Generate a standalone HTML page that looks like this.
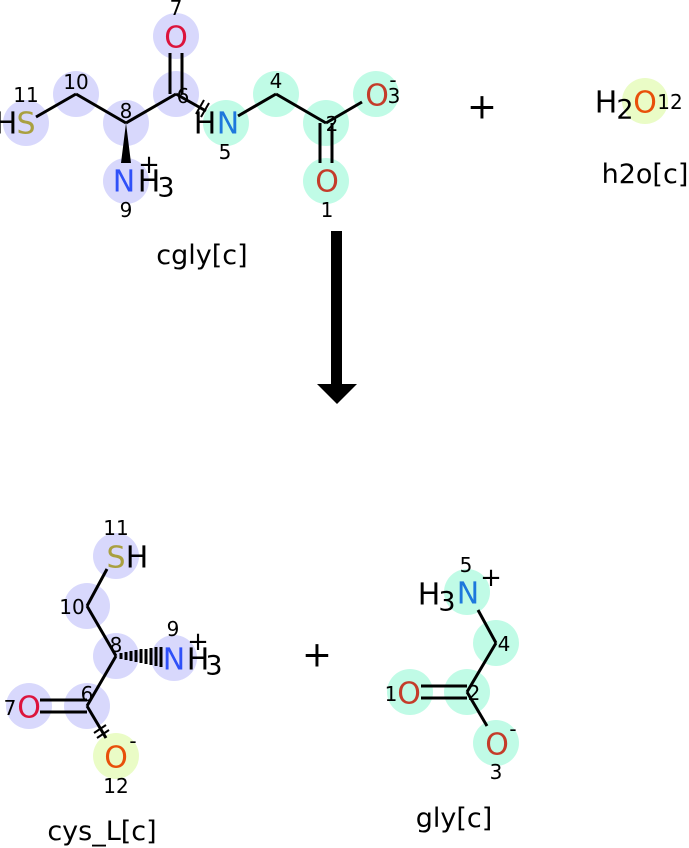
<!DOCTYPE html>
<html><head><meta charset="utf-8"><style>
html,body{margin:0;padding:0;background:#fff;}
svg{display:block;font-family:"DejaVu Sans","Liberation Sans",sans-serif;}
.a{font-size:30px;text-anchor:middle;dominant-baseline:central;}
.s{font-size:27px;}
.n{font-size:20px;text-anchor:middle;dominant-baseline:central;fill:#000;}
.l{font-size:27px;text-anchor:middle;fill:#000;}
line{stroke:#000;stroke-width:3;}
.p{fill:#d8d8fc}.g{fill:#c0fbe6}.y{fill:#eafcc6}
</style></head><body>
<svg width="689" height="848" viewBox="0 0 689 848">
<!-- cgly -->
<circle class="p" cx="26" cy="123" r="23"/><circle class="p" cx="76" cy="94" r="23"/>
<circle class="p" cx="126" cy="123" r="23"/><circle class="p" cx="176" cy="94" r="23"/>
<circle class="p" cx="176" cy="36" r="23"/><circle class="p" cx="126" cy="181" r="23"/>
<circle class="g" cx="226" cy="123" r="23"/><circle class="g" cx="276" cy="94" r="23"/>
<circle class="g" cx="326" cy="123" r="23"/><circle class="g" cx="376" cy="94" r="23"/>
<circle class="g" cx="326" cy="181" r="23"/>
<line x1="36" y1="117" x2="76" y2="94"/><line x1="76" y1="94" x2="126" y2="123"/>
<line x1="126" y1="123" x2="176" y2="94"/><line x1="176" y1="94" x2="206" y2="111"/>
<line x1="170" y1="53" x2="170" y2="94"/><line x1="182" y1="53" x2="182" y2="94"/>
<line x1="196" y1="114" x2="204" y2="100" style="stroke-width:2"/><line x1="201" y1="117" x2="209" y2="103" style="stroke-width:2"/>
<polygon points="126,123 121,163 131,163" fill="#000"/>
<line x1="238" y1="116" x2="276" y2="94"/><line x1="276" y1="94" x2="326" y2="123"/>
<line x1="326" y1="123" x2="362" y2="102"/>
<line x1="320" y1="123" x2="320" y2="163"/><line x1="332" y1="123" x2="332" y2="163"/>
<text class="a" x="26" y="124" fill="#a9a040">S</text><text class="a" x="6" y="124">H</text>
<text class="a" x="176" y="38" fill="#dc143c">O</text>
<text class="a" x="124" y="182" fill="#2f50f8">N</text><text class="a" x="149" y="182">H</text>
<text class="a s" x="166" y="188">3</text><text class="n" x="149" y="165" style="font-size:26px">+</text>
<text class="a" x="205" y="124">H</text><text class="a" x="228" y="124" fill="#1e78dc">N</text>
<text class="a" x="377" y="96" fill="#c43c2a">O</text><text class="n" x="394" y="96">3</text><text class="n" x="393" y="80">-</text>
<text class="a" x="327" y="182" fill="#c43c2a">O</text>
<text class="n" x="176" y="8">7</text><text class="n" x="76" y="82">10</text><text class="n" x="26" y="95">11</text>
<text class="n" x="126" y="111">8</text><text class="n" x="183" y="96">6</text><text class="n" x="276" y="81">4</text>
<text class="n" x="225" y="152">5</text><text class="n" x="332" y="124">2</text><text class="n" x="126" y="210">9</text>
<text class="n" x="327" y="210">1</text>
<text class="l" x="202" y="264">cgly[c]</text>
<!-- plus -->
<text class="a" x="482" y="107" style="font-size:36px">+</text>
<text class="a" x="317" y="655" style="font-size:36px">+</text>
<!-- h2o -->
<circle class="y" cx="645" cy="101" r="23"/>
<text class="a" x="606" y="103">H</text><text class="a s" x="625" y="110">2</text>
<text class="a" x="645" y="103" fill="#e8500a">O</text><text class="n" x="670" y="102">12</text>
<text class="l" x="645" y="183">h2o[c]</text>
<!-- arrow -->
<rect x="331" y="231" width="11" height="155" fill="#000"/>
<polygon points="317,384 357,384 337,404" fill="#000"/>
<!-- cys -->
<circle class="p" cx="116" cy="556" r="23"/><circle class="p" cx="87" cy="606" r="23"/>
<circle class="p" cx="116" cy="656" r="23"/><circle class="p" cx="174" cy="658" r="23"/>
<circle class="p" cx="87" cy="706" r="23"/><circle class="p" cx="29" cy="706" r="23"/>
<circle class="y" cx="116" cy="756" r="23"/>
<line x1="107" y1="569" x2="87" y2="606"/><line x1="87" y1="606" x2="116" y2="656"/>
<line x1="116" y1="656" x2="87" y2="706"/><line x1="87" y1="706" x2="106" y2="738"/>
<line x1="40" y1="700" x2="87" y2="700"/><line x1="40" y1="712" x2="87" y2="712"/>
<line x1="94" y1="733" x2="106" y2="725" style="stroke-width:2"/><line x1="97" y1="738" x2="109" y2="730" style="stroke-width:2"/>
<g stroke="#000" stroke-width="2">
<line x1="121" y1="653" x2="121" y2="659"/><line x1="126" y1="652" x2="126" y2="660"/><line x1="131" y1="651" x2="131" y2="661"/>
<line x1="136" y1="650" x2="136" y2="662"/><line x1="141" y1="649" x2="141" y2="663"/><line x1="146" y1="649" x2="146" y2="664"/>
<line x1="151" y1="648" x2="151" y2="665"/><line x1="156" y1="647" x2="156" y2="666"/><line x1="161" y1="647" x2="161" y2="667"/>
</g>
<text class="a" x="116" y="558" fill="#a9a040">S</text><text class="a" x="137" y="558">H</text>
<text class="a" x="174" y="660" fill="#2f50f8">N</text><text class="a" x="198" y="660">H</text>
<text class="a s" x="214" y="666">3</text><text class="n" x="198" y="642" style="font-size:26px">+</text>
<text class="a" x="29" y="708" fill="#dc143c">O</text><text class="n" x="10" y="708">7</text>
<text class="a" x="116" y="758" fill="#e8500a">O</text><text class="n" x="133" y="741">-</text>
<text class="n" x="116" y="528">11</text><text class="n" x="72" y="607">10</text><text class="n" x="116" y="645">8</text>
<text class="n" x="173" y="629">9</text><text class="n" x="87" y="694">6</text><text class="n" x="116" y="786">12</text>
<text class="l" x="102" y="840">cys_L[c]</text>
<!-- gly -->
<circle class="g" cx="467" cy="592" r="23"/><circle class="g" cx="496" cy="643" r="23"/>
<circle class="g" cx="467" cy="692" r="23"/><circle class="g" cx="410" cy="692" r="23"/>
<circle class="g" cx="496" cy="743" r="23"/>
<line x1="478" y1="610" x2="496" y2="643"/><line x1="496" y1="643" x2="467" y2="692"/>
<line x1="467" y1="692" x2="487" y2="726"/>
<line x1="421" y1="686" x2="467" y2="686"/><line x1="421" y1="698" x2="467" y2="698"/>
<text class="a" x="429" y="595">H</text><text class="a s" x="447" y="602">3</text>
<text class="a" x="468" y="594" fill="#1e78dc">N</text><text class="n" x="491" y="578" style="font-size:26px">+</text>
<text class="a" x="409" y="694" fill="#c43c2a">O</text><text class="n" x="391" y="694">1</text>
<text class="a" x="497" y="745" fill="#c43c2a">O</text><text class="n" x="513" y="729">-</text>
<text class="n" x="466" y="565">5</text><text class="n" x="504" y="644">4</text><text class="n" x="474" y="693">2</text>
<text class="n" x="496" y="772">3</text>
<text class="l" x="454" y="827">gly[c]</text>
</svg>
</body></html>
